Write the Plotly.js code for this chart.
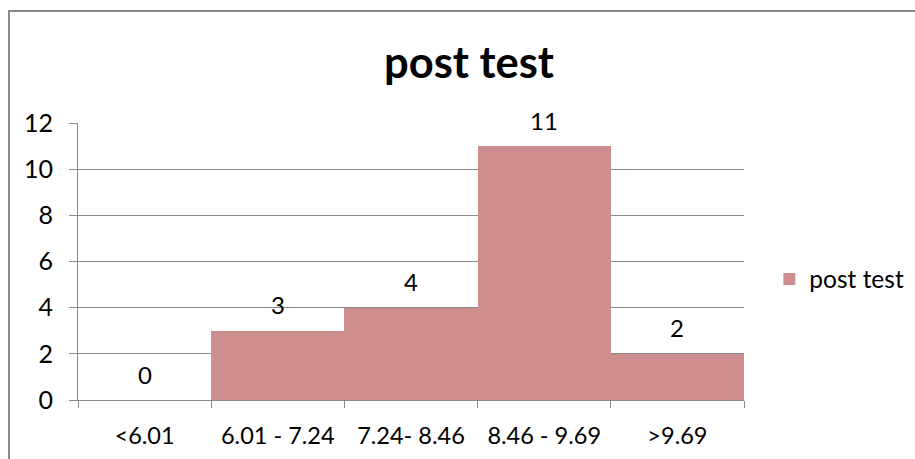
<!DOCTYPE html>
<html>
<head>
<meta charset="utf-8">
<script src="https://cdn.plot.ly/plotly-3.0.1.min.js"></script>
<style>
  html, body { margin: 0; padding: 0; background: #fff; }
  #wrap { position: relative; width: 915px; height: 459px; overflow: hidden; }
  #chart { position: absolute; left: 0; top: 0; width: 915px; height: 459px; }
  #frame { position: absolute; left: 8px; top: 10px; width: 930px; height: 470px;
           border-left: 2px solid #8a8a8a; border-top: 2px solid #8a8a8a; pointer-events: none; }
</style>
</head>
<body>
<div id="wrap">
  <div id="chart"></div>
  <div id="frame"></div>
</div>
<script>
// ---- data ----
const categories = ["<6.01", "6.01 - 7.24", "7.24- 8.46", "8.46 - 9.69", ">9.69"];
const values = [0, 3, 4, 11, 2];
const seriesName = "post test";
const chartTitle = "post test";
const yTicks = [0, 2, 4, 6, 8, 10, 12];

// ---- style ----
const barColor = "#CF8E8E";
const gray = "#8a8a8a";
const fontFamily = "Lato, 'Open Sans', sans-serif";

const trace = {
  type: "bar",
  x: categories,
  y: values,
  name: seriesName,
  marker: { color: barColor, line: { width: 0 } },
  hoverinfo: "x+y",
  showlegend: true
};

const annotations = categories.map((c, i) => ({
  x: c, y: values[i], xref: "x", yref: "y",
  text: String(values[i]), showarrow: false,
  yanchor: "middle", yshift: 26,
  font: { family: fontFamily, size: 24, color: "#000" }
}));

const layout = {
  width: 915, height: 459,
  margin: { l: 78, r: 171, t: 123, b: 59, pad: 0, autoexpand: false },
  paper_bgcolor: "rgba(0,0,0,0)",
  plot_bgcolor: "rgba(0,0,0,0)",
  bargap: 0,
  title: {
    text: "<b>" + chartTitle + "</b>",
    font: { family: fontFamily, size: 43.5, color: "#000" },
    xref: "container", yref: "container",
    x: 469 / 915, xanchor: "center",
    y: 1 - 63 / 459, yanchor: "middle"
  },
  xaxis: {
    type: "category",
    tickson: "boundaries",
    ticks: "outside", ticklen: 7, tickcolor: gray, tickwidth: 1,
    showline: true, linecolor: gray, linewidth: 1,
    showgrid: false, zeroline: false,
    tickfont: { family: fontFamily, size: 23.5, color: "#000" },
    ticklabelstandoff: 15,
    fixedrange: true
  },
  yaxis: {
    range: [0, 12],
    tickvals: yTicks,
    ticks: "outside", ticklen: 8, tickcolor: gray, tickwidth: 1,
    showline: true, linecolor: gray, linewidth: 1,
    showgrid: true, gridcolor: gray, gridwidth: 1,
    zeroline: false,
    tickfont: { family: fontFamily, size: 25, color: "#000" },
    ticklabelstandoff: 11,
    fixedrange: true
  },
  legend: {
    x: (786 - 78) / 666 - 0.025, xanchor: "left",
    y: (400 - 279) / 277, yanchor: "middle",
    font: { family: fontFamily, size: 24.5, color: "#000" },
    bgcolor: "rgba(0,0,0,0)",
    itemwidth: 30
  },
  annotations: annotations,
  showlegend: true
};

Plotly.newPlot("chart", [trace], layout, { displayModeBar: false, staticPlot: true });
</script>
</body>
</html>
